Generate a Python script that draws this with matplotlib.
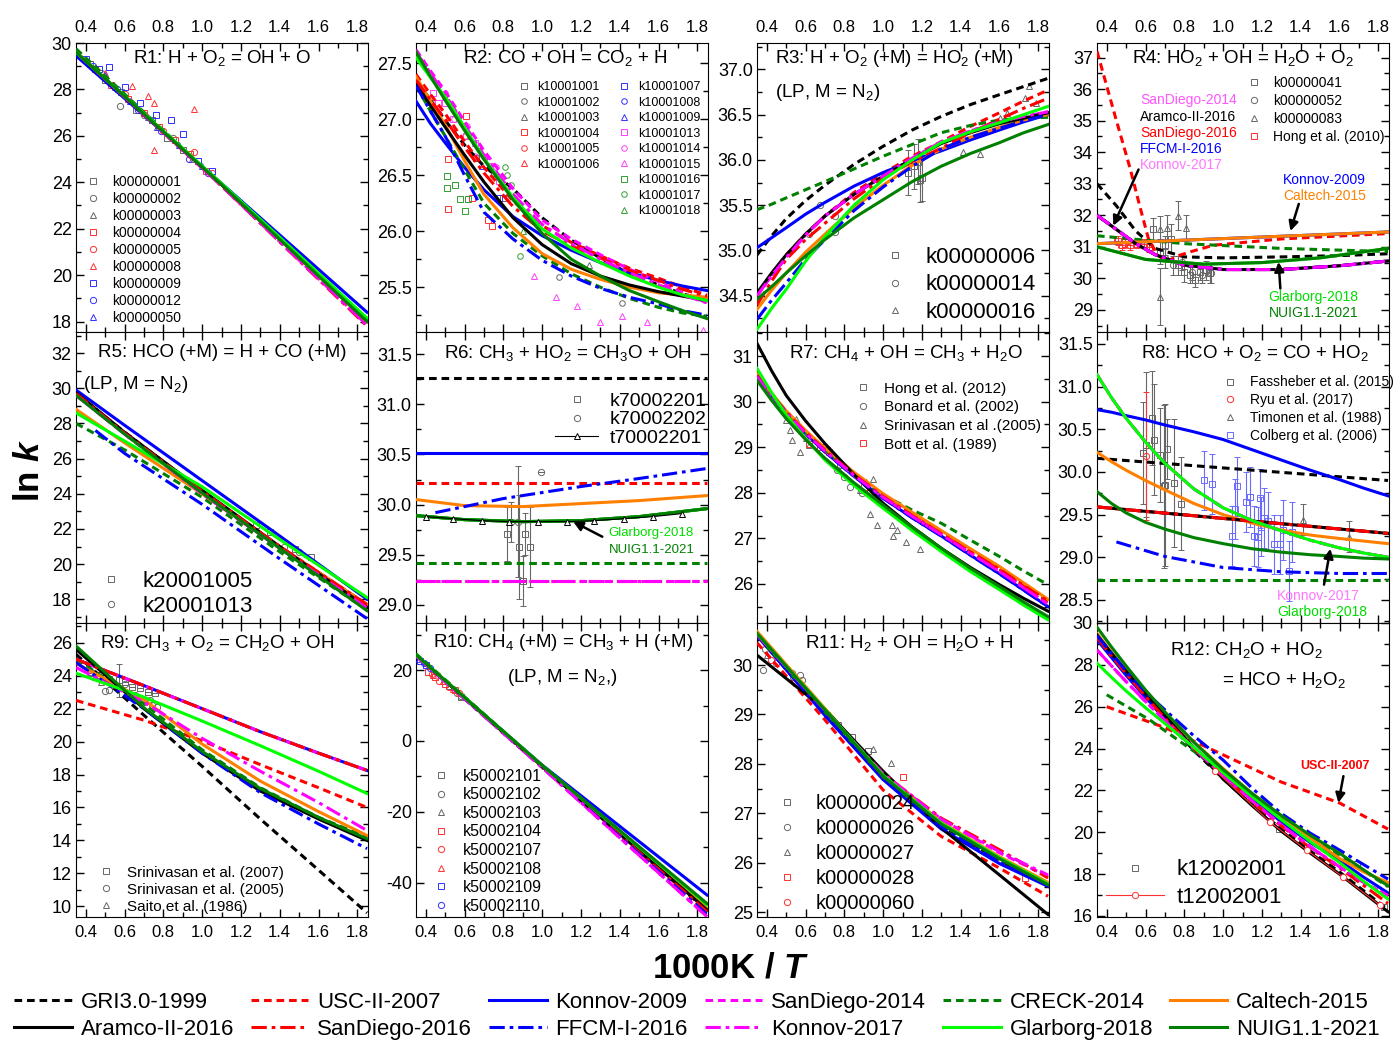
import matplotlib
matplotlib.use("Agg")
import matplotlib.pyplot as plt
from matplotlib.lines import Line2D
from matplotlib.ticker import MultipleLocator, FormatStrFormatter

plt.rcParams['font.family'] = ['Liberation Sans', 'DejaVu Sans']
plt.rcParams['mathtext.fontset'] = 'custom'
plt.rcParams['mathtext.rm'] = 'Liberation Sans'
plt.rcParams['mathtext.it'] = 'Liberation Sans:italic'
plt.rcParams['mathtext.bf'] = 'Liberation Sans:bold'
plt.rcParams['mathtext.bfit'] = 'Liberation Sans:bold:italic'

# %% models
keys = ['GRI', 'USC', 'K09', 'SD14', 'CRECK', 'CT15', 'ARAM', 'SD16', 'FFCM', 'K17', 'GLA', 'NUIG']
model_names = ['GRI3.0-1999', 'USC-II-2007', 'Konnov-2009', 'SanDiego-2014', 'CRECK-2014', 'Caltech-2015',
               'Aramco-II-2016', 'SanDiego-2016', 'FFCM-I-2016', 'Konnov-2017', 'Glarborg-2018', 'NUIG1.1-2021']

# x values at which the curved panels were read
x_dense = [0.35, 0.425, 0.5, 0.6, 0.7, 0.85, 1.0, 1.15, 1.3, 1.45, 1.6, 1.725, 1.85]

# %% R1: H + O2 = OH + O
r1_x = [0.35, 1.1, 1.85]
r1 = {'GRI': [29.6, 23.9, 18.0], 'USC': [29.6, 23.85, 17.9], 'K09': [29.45, 23.95, 18.4],
      'SD14': [29.6, 23.85, 17.85], 'CRECK': [29.75, 23.9, 18.0], 'CT15': [29.6, 23.9, 18.0],
      'ARAM': [29.6, 23.9, 18.05], 'SD16': [29.6, 23.85, 17.8], 'FFCM': [29.6, 23.9, 18.0],
      'K17': [29.6, 23.85, 17.85], 'GLA': [29.6, 23.95, 18.15], 'NUIG': [29.6, 23.9, 18.0]}
r1_pts = {
    'k00000001': ([0.42, 0.5, 0.58, 0.66, 0.74, 0.82, 0.9], [29.1, 28.4, 27.9, 27.1, 26.7, 25.9, 25.4]),
    'k00000002': ([0.48, 0.575, 0.7, 0.85], [28.7, 27.3, 26.9, 25.9]),
    'k00000003': ([0.55, 0.72, 0.95], [28.1, 26.8, 25.0]),
    'k00000004': ([0.45, 0.53, 0.62, 0.7, 0.78, 0.86, 0.94, 1.02], [28.9, 28.2, 27.6, 27.0, 26.4, 25.8, 25.2, 24.5]),
    'k00000005': ([0.6, 0.8, 0.96, 1.05], [27.8, 26.2, 25.3, 24.4]),
    'k00000008': ([0.5, 0.64, 0.72, 0.75, 0.96, 0.75], [28.7, 28.14, 27.7, 27.4, 27.15, 25.37]),
    'k00000009': ([0.4, 0.47, 0.52, 0.6, 0.68, 0.76, 0.84, 0.9, 0.98, 1.05],
                  [29.3, 28.9, 28.97, 28.1, 27.4, 26.9, 26.7, 26.1, 24.9, 24.5]),
    'k00000012': ([0.44, 0.56, 0.67, 0.79, 0.93, 1.03], [29.0, 28.0, 27.1, 26.2, 25.0, 24.4]),
    'k00000050': ([0.5, 0.63, 0.77, 0.88, 1.0], [28.6, 27.5, 26.4, 25.6, 24.7]),
}

# %% R2: CO + OH = CO2 + H
r2 = {'GRI': [27.35, 27.17, 26.99, 26.77, 26.58, 26.38, 26.12, 25.92, 25.76, 25.62, 25.52, 25.44, 25.38],
      'USC': [27.4, 27.22, 27.05, 26.8, 26.57, 26.27, 26.05, 25.9, 25.78, 25.67, 25.58, 25.5, 25.43],
      'K09': [27.16, 26.96, 26.79, 26.57, 26.37, 26.13, 25.96, 25.83, 25.72, 25.63, 25.56, 25.51, 25.47],
      'SD14': [27.62, 27.43, 27.25, 26.98, 26.72, 26.38, 26.1, 25.93, 25.79, 25.66, 25.55, 25.45, 25.36],
      'CRECK': [27.3, 27.07, 26.85, 26.55, 26.25, 25.98, 25.78, 25.62, 25.5, 25.4, 25.32, 25.27, 25.24],
      'CT15': [27.38, 27.16, 26.95, 26.63, 26.33, 26.03, 25.8, 25.66, 25.57, 25.5, 25.45, 25.43, 25.41],
      'ARAM': [27.32, 27.12, 26.93, 26.68, 26.44, 26.12, 25.88, 25.71, 25.6, 25.52, 25.46, 25.42, 25.38],
      'SD16': [27.35, 27.17, 27.0, 26.75, 26.52, 26.22, 26.0, 25.87, 25.76, 25.65, 25.56, 25.48, 25.42],
      'FFCM': [27.3, 27.07, 26.85, 26.5, 26.17, 25.93, 25.74, 25.6, 25.49, 25.41, 25.35, 25.29, 25.25],
      'K17': [27.6, 27.41, 27.22, 26.95, 26.68, 26.33, 26.06, 25.89, 25.75, 25.63, 25.52, 25.43, 25.36],
      'GLA': [27.55, 27.37, 27.2, 26.93, 26.65, 26.3, 26.02, 25.85, 25.72, 25.6, 25.5, 25.43, 25.38],
      'NUIG': [27.6, 27.38, 27.17, 26.9, 26.64, 26.28, 25.98, 25.75, 25.6, 25.47, 25.37, 25.29, 25.22]}
r2_pts = {
    'k10001001': ([0.66, 0.8], [26.65, 26.3]),
    'k10001002': ([1.085, 1.41], [25.59, 25.36]),
    'k10001003': ([0.956, 1.24, 1.64], [26.11, 25.7, 25.47]),
    'k10001004': ([0.517, 0.517, 0.61, 0.64, 0.72, 0.74], [26.2, 26.64, 27.03, 26.3, 26.1, 26.05]),
    'k10001005': ([0.47, 0.6], [27.0, 26.85]),
    'k10001006': ([0.5], [27.2]),
    'k10001007': ([0.78], [26.3]),
    'k10001008': ([0.43], [27.1]),
    'k10001009': ([0.69], [26.58]),
    'k10001013': ([0.44, 0.465, 0.5, 0.54, 0.61, 0.655, 0.73, 0.75, 0.78],
                  [27.23, 27.14, 27.14, 27.0, 26.85, 26.79, 26.58, 26.52, 26.45]),
    'k10001014': ([0.5, 0.546, 0.615, 0.655, 0.76], [27.23, 27.0, 26.94, 26.67, 26.57]),
    'k10001015': ([0.956, 1.07, 1.18, 1.3, 1.41, 1.54, 1.83], [25.6, 25.41, 25.33, 25.19, 25.24, 25.19, 25.12]),
    'k10001016': ([0.51, 0.51, 0.55, 0.577, 0.60, 0.62], [26.49, 26.39, 26.41, 26.29, 26.18, 26.29]),
    'k10001017': ([0.81, 0.82, 0.84, 0.86, 0.887], [26.57, 26.5, 26.41, 26.32, 25.78]),
    'k10001018': ([0.9], [26.0]),
}

# %% R3: H + O2 (+M) = HO2 (+M)
r3 = {'GRI': [34.95, 35.16, 35.35, 35.55, 35.72, 35.95, 36.15, 36.33, 36.48, 36.61, 36.72, 36.81, 36.9],
      'USC': [34.5, 34.74, 34.95, 35.18, 35.38, 35.64, 35.85, 36.04, 36.2, 36.37, 36.52, 36.65, 36.77],
      'K09': [35.03, 35.14, 35.25, 35.4, 35.53, 35.71, 35.86, 35.99, 36.1, 36.22, 36.33, 36.42, 36.5],
      'SD14': [34.5, 34.72, 34.92, 35.17, 35.38, 35.62, 35.82, 36.02, 36.2, 36.32, 36.42, 36.48, 36.53],
      'CRECK': [35.45, 35.51, 35.58, 35.67, 35.76, 35.9, 36.04, 36.17, 36.3, 36.38, 36.44, 36.46, 36.47],
      'CT15': [34.35, 34.56, 34.75, 34.98, 35.18, 35.47, 35.72, 35.94, 36.12, 36.25, 36.36, 36.44, 36.5],
      'ARAM': [34.53, 34.75, 34.95, 35.18, 35.38, 35.62, 35.82, 36.01, 36.18, 36.3, 36.4, 36.46, 36.52],
      'SD16': [34.4, 34.66, 34.9, 35.12, 35.3, 35.57, 35.8, 35.98, 36.13, 36.3, 36.45, 36.57, 36.68],
      'FFCM': [34.24, 34.45, 34.64, 34.9, 35.12, 35.44, 35.7, 35.93, 36.12, 36.25, 36.35, 36.43, 36.5],
      'K17': [34.5, 34.72, 34.92, 35.17, 35.38, 35.62, 35.82, 36.02, 36.2, 36.32, 36.42, 36.48, 36.53],
      'GLA': [34.13, 34.36, 34.57, 34.88, 35.15, 35.5, 35.78, 36.0, 36.19, 36.31, 36.41, 36.5, 36.59],
      'NUIG': [34.46, 34.6, 34.75, 34.94, 35.12, 35.36, 35.56, 35.76, 35.93, 36.07, 36.19, 36.3, 36.39]}
r3_pts = {
    'k00000006': ([1.13, 1.16, 1.18, 1.19, 1.2], [35.86, 35.93, 35.98, 35.78, 35.8], [0.25, 0.25, 0.25, 0.25, 0.25]),
    'k00000014': ([0.62, 0.675, 0.75, 0.75], [35.18, 35.5, 35.2, 35.38]),
    'k00000016': ([1.41, 1.5, 1.6, 1.64, 1.73, 1.75, 1.79], [36.09, 36.07, 36.46, 36.52, 36.68, 36.81, 36.63]),
}

# %% R4: HO2 + OH = H2O + O2
r4_x = [0.35, 0.45, 0.55, 0.65, 0.8, 1.0, 1.3, 1.6, 1.85]
r4_group = [32.0, 31.55, 31.1, 30.75, 30.42, 30.28, 30.28, 30.4, 30.55]
r4 = {'GRI': [33.0, 32.3, 31.5, 30.95, 30.68, 30.65, 30.68, 30.72, 30.78],
      'USC': ([0.35, 0.45, 0.52, 0.57, 0.615, 0.66, 0.71, 0.76, 0.83, 0.95, 1.3, 1.85],
              [37.2, 35.0, 33.5, 32.3, 31.26, 30.75, 30.52, 30.7, 30.84, 31.05, 31.25, 31.42]),
      'K09': ([0.35, 1.85], [31.1, 31.47]),
      'SD14': r4_group,
      'CRECK': ([0.35, 0.8, 1.3, 1.85], [31.35, 31.1, 30.95, 30.85]),
      'CT15': ([0.35, 1.85], [31.1, 31.47]),
      'ARAM': r4_group,
      'SD16': r4_group,
      'FFCM': r4_group,
      'K17': r4_group,
      'GLA': ([0.35, 0.6, 0.9, 1.2, 1.5, 1.85], [31.0, 30.6, 30.45, 30.5, 30.65, 30.95]),
      'NUIG': ([0.35, 0.6, 0.9, 1.2, 1.5, 1.85], [31.0, 30.6, 30.45, 30.5, 30.65, 30.95])}
r4_pts = {
    'k00000041': ([0.64, 0.675, 0.70, 0.73, 0.77, 0.80, 0.83, 0.856, 0.88, 0.91, 0.93],
                  [31.57, 30.84, 31.05, 31.26, 30.42, 30.2, 30.1, 29.94, 30.2, 30.26, 30.16],
                  [0.35, 0.4, 0.3, 0.45, 0.3, 0.3, 0.25, 0.2, 0.25, 0.3, 0.3]),
    'k00000052': ([0.70, 0.74, 0.79, 0.84, 0.89, 0.94], [30.63, 30.42, 30.52, 30.2, 30.1, 30.16],
                  [0.3, 0.3, 0.25, 0.25, 0.25, 0.3]),
    'k00000083': ([0.675, 0.675, 0.71, 0.77, 0.81], [29.42, 31.57, 31.6, 31.99, 31.6], [0.9, 0.4, 0.4, 0.45, 0.4]),
    'Hong et al. (2010)': ([0.46, 0.48, 0.495, 0.52, 0.555, 0.59, 0.62], [31.2, 31.05, 31.15, 31.05, 31.1, 31.1, 31.0],
                           [0.15, 0.15, 0.15, 0.15, 0.15, 0.15, 0.15], [0.02, 0.02, 0.02, 0.02, 0.02, 0.02, 0.02]),
}

# %% R5: HCO (+M) = H + CO (+M)
r5_x = [0.35, 0.6, 1.0, 1.4, 1.85]
r5 = {'GRI': [29.7, 27.5, 24.15, 20.95, 17.6], 'USC': [29.7, 27.5, 24.15, 21.0, 17.7],
      'K09': [29.9, 27.9, 24.75, 21.6, 18.0], 'SD14': [29.6, 27.4, 24.0, 20.9, 17.5],
      'CRECK': [28.0, 26.5, 23.8, 20.7, 17.4], 'CT15': [28.8, 26.9, 24.0, 21.0, 17.7],
      'ARAM': [29.75, 27.5, 24.2, 21.0, 17.55], 'SD16': [29.7, 27.45, 24.15, 21.0, 17.7],
      'FFCM': ([0.45, 0.6, 1.0, 1.4, 1.85], [27.6, 26.3, 23.4, 20.3, 16.9]),
      'K17': [29.6, 27.4, 24.0, 20.9, 17.5], 'GLA': [28.6, 27.0, 24.4, 21.4, 18.1],
      'NUIG': [29.6, 27.4, 24.05, 20.9, 17.35]}
r5_pts = {
    'k20001005': ([1.28, 1.35, 1.48, 1.56], [22.25, 21.83, 20.84, 20.4]),
    'k20001013': ([1.42, 1.5], [21.0, 20.7]),
}

# %% R6: CH3 + HO2 = CH3O + OH
r6_flat_x = [0.35, 1.85]
r6_nuig_x = [0.35, 0.6, 0.9, 1.2, 1.5, 1.85]
r6_nuig = [29.89, 29.85, 29.83, 29.84, 29.88, 29.96]
r6 = {'GRI': (r6_flat_x, [31.26, 31.26]), 'USC': (r6_flat_x, [30.22, 30.22]),
      'K09': (r6_flat_x, [30.51, 30.51]), 'SD14': (r6_flat_x, [29.24, 29.24]),
      'CRECK': (r6_flat_x, [29.42, 29.42]),
      'CT15': (r6_nuig_x, [30.05, 29.99, 29.98, 30.01, 30.04, 30.09]),
      'ARAM': (r6_nuig_x, r6_nuig), 'SD16': (r6_flat_x, [29.24, 29.24]),
      'FFCM': ([0.45, 0.8, 1.2, 1.5, 1.85], [29.92, 30.06, 30.18, 30.26, 30.36]),
      'K17': (r6_flat_x, [29.24, 29.24]), 'GLA': (r6_nuig_x, r6_nuig), 'NUIG': (r6_nuig_x, r6_nuig)}
r6_pts = {
    'k70002201': ([0.82, 0.88, 0.90, 0.91, 0.94], [29.71, 29.58, 29.24, 29.71, 29.58], [0.27, 0.52, 0.25, 0.21, 0.4]),
    'k70002202': ([0.84, 0.875, 0.995], [29.83, 29.83, 30.32], [0.2, 0.55, 0.0]),
    't70002201': ([0.4, 0.54, 0.69, 0.83, 0.98, 1.13, 1.27, 1.42, 1.57, 1.72],
                  [29.88, 29.86, 29.84, 29.83, 29.83, 29.83, 29.84, 29.86, 29.88, 29.91]),
}

# %% R7: CH4 + OH = CH3 + H2O
r7_mid = [30.58, 30.16, 29.78, 29.33, 28.94, 28.4, 27.92, 27.5, 27.1, 26.7, 26.32, 25.96, 25.62]
r7 = {'GRI': r7_mid, 'USC': r7_mid, 'SD16': r7_mid,
      'K09': [30.55, 30.13, 29.75, 29.3, 28.9, 28.36, 27.88, 27.45, 27.05, 26.63, 26.22, 25.86, 25.5],
      'SD14': [30.55, 30.14, 29.76, 29.31, 28.92, 28.38, 27.9, 27.48, 27.08, 26.67, 26.27, 25.91, 25.55],
      'CRECK': [30.6, 30.18, 29.78, 29.33, 28.94, 28.42, 27.95, 27.62, 27.33, 26.96, 26.6, 26.28, 25.98],
      'CT15': [30.6, 30.19, 29.8, 29.37, 28.98, 28.45, 27.98, 27.57, 27.17, 26.77, 26.38, 26.02, 25.66],
      'ARAM': [31.28, 30.68, 30.14, 29.58, 29.08, 28.4, 27.77, 27.25, 26.78, 26.36, 25.98, 25.68, 25.4],
      'FFCM': [30.55, 30.13, 29.75, 29.3, 28.9, 28.36, 27.88, 27.45, 27.05, 26.63, 26.22, 25.86, 25.5],
      'K17': [30.55, 30.14, 29.76, 29.31, 28.92, 28.38, 27.9, 27.48, 27.08, 26.67, 26.27, 25.91, 25.55],
      'GLA': [30.73, 30.2, 29.71, 29.19, 28.72, 28.16, 27.66, 27.17, 26.71, 26.27, 25.87, 25.53, 25.21],
      'NUIG': [30.47, 30.03, 29.63, 29.17, 28.76, 28.22, 27.73, 27.24, 26.78, 26.34, 25.94, 25.6, 25.28]}
r7_pts = {
    'Hong et al. (2012)': ([0.72, 0.78], [28.9, 28.6]),
    'Bonard et al. (2002)': ([0.76, 0.8, 0.83, 0.89], [28.5, 28.35, 28.13, 27.99]),
    'Srinivasan et al .(2005)': ([0.5, 0.52, 0.53, 0.55, 0.57, 0.6, 0.62, 0.88, 0.91, 0.93, 0.95, 0.97,
                                  1.045, 1.05, 1.07, 1.12, 1.19],
                                 [29.6, 29.38, 29.16, 29.61, 28.9, 29.2, 29.05, 28.06, 28.24, 27.54, 28.3, 27.29,
                                  27.29, 27.04, 27.18, 26.91, 26.77]),
    'Bott et al. (1989)': ([0.62, 0.675, 0.71, 0.9, 0.93], [29.08, 29.01, 28.94, 28.13, 27.99]),
}

# %% R8: HCO + O2 = CO + HO2
r8_lime = [31.14, 30.87, 30.63, 30.35, 30.1, 29.8, 29.58, 29.43, 29.31, 29.2, 29.11, 29.05, 29.0]
r8_flat_x = [0.35, 1.85]
r8 = {'GRI': (r8_flat_x, [30.16, 29.9]),
      'USC': (r8_flat_x, [29.59, 29.28]),
      'K09': [30.73, 30.7, 30.66, 30.61, 30.55, 30.47, 30.38, 30.26, 30.14, 30.02, 29.91, 29.81, 29.72],
      'SD14': r8_lime,
      'CRECK': (r8_flat_x, [28.73, 28.73]),
      'CT15': [30.23, 30.12, 30.02, 29.9, 29.79, 29.63, 29.5, 29.4, 29.32, 29.26, 29.22, 29.19, 29.16],
      'ARAM': (r8_flat_x, [29.59, 29.28]),
      'SD16': (r8_flat_x, [29.59, 29.28]),
      'FFCM': ([0.45, 0.7, 1.0, 1.3, 1.6, 1.85], [29.18, 29.01, 28.88, 28.83, 28.81, 28.81]),
      'K17': r8_lime,
      'GLA': r8_lime,
      'NUIG': [29.77, 29.63, 29.52, 29.41, 29.33, 29.23, 29.16, 29.1, 29.06, 29.03, 29.01, 28.99, 28.98]}
r8_pts = {
    'Fassheber et al. (2015)': ([0.586, 0.603, 0.632, 0.644, 0.675, 0.695, 0.70, 0.71, 0.748, 0.782],
                                [30.22, 30.32, 30.63, 30.38, 30.2, 29.83, 29.85, 30.27, 29.87, 29.63],
                                [0.6, 0.85, 0.55, 0.65, 0.55, 0.95, 0.95, 0.35, 0.75, 0.55]),
    'Ryu et al. (2017)': ([0.603], [30.19], [0.75]),
    'Timonen et al. (1988)': ([1.41, 1.65], [29.44, 29.24], [0.18, 0.18]),
    'Colberg et al. (2006)': ([0.90, 0.945, 1.045, 1.06, 1.07, 1.12, 1.137, 1.16, 1.18, 1.19, 1.197, 1.21, 1.23,
                               1.26, 1.295, 1.31, 1.34, 1.355],
                              [29.9, 29.86, 29.25, 29.57, 29.83, 29.65, 29.71, 29.25, 29.24, 29.69, 29.36, 29.46,
                               29.42, 29.15, 29.15, 29.32, 28.84, 29.3],
                              [0.35] * 18),
}

# %% R9: CH3 + O2 = CH2O + OH
r9_x = [0.35, 0.7, 1.0, 1.3, 1.6, 1.85]
r9 = {'GRI': [25.3, 21.6, 18.5, 15.3, 12.2, 9.6],
      'USC': [22.5, 21.3, 20.05, 18.6, 17.2, 16.0],
      'K09': [25.0, 23.4, 22.0, 20.6, 19.3, 18.25],
      'SD14': [25.0, 23.4, 22.0, 20.6, 19.3, 18.25],
      'CRECK': [25.0, 22.3, 19.5, 17.2, 15.4, 14.2],
      'CT15': [24.75, 22.55, 19.85, 17.6, 15.75, 14.3],
      'ARAM': [25.6, 22.0, 19.3, 17.0, 15.3, 14.0],
      'SD16': [25.0, 23.4, 22.0, 20.6, 19.3, 18.25],
      'FFCM': [24.8, 22.0, 19.3, 16.9, 15.0, 13.5],
      'K17': [24.5, 22.4, 20.2, 18.2, 16.3, 14.6],
      'GLA': [24.15, 22.7, 21.25, 19.75, 18.2, 16.85],
      'NUIG': [25.8, 22.05, 19.4, 17.15, 15.4, 14.1]}
r9_pts = {
    'Srinivasan et al. (2007)': ([0.425, 0.476, 0.52, 0.57, 0.6, 0.64, 0.68, 0.72, 0.757],
                                 [24.14, 24.04, 23.83, 23.73, 23.63, 23.33, 23.23, 23.02, 22.92],
                                 [0, 0, 0, 1.0, 0, 0, 0, 0, 0]),
    'Srinivasan et al. (2005)': ([0.5, 0.52, 0.6, 0.655, 0.69, 0.705, 0.73, 0.74, 0.77],
                                 [23.1, 23.13, 23.5, 22.8, 22.6, 22.4, 22.5, 22.2, 22.1]),
    'Saito et al. (1986)': ([0.42, 0.45, 0.48], [24.2, 23.9, 23.6]),
}

# %% R10: CH4 (+M) = CH3 + H (+M)
r10_x = [0.35, 1.0, 1.85]
r10 = {'GRI': [24.2, -7.2, -47.8], 'USC': [24.2, -7.2, -47.9], 'K09': [24.0, -6.8, -43.5],
       'SD14': [24.0, -7.5, -49.6], 'CRECK': [24.6, -6.9, -46.5], 'CT15': [24.2, -7.1, -47.3],
       'ARAM': [24.2, -7.2, -47.7], 'SD16': [24.2, -7.3, -48.2], 'FFCM': [24.0, -7.4, -49.0],
       'K17': [24.0, -7.5, -49.6], 'GLA': [24.3, -6.9, -46.2], 'NUIG': [24.3, -6.9, -45.9]}
r10_pts = {
    'k50002101': ([0.58], [12.5]),
    'k50002102': ([0.56, 0.58], [13.5, 12.8]),
    'k50002103': ([0.52], [15.5]),
    'k50002104': ([0.41, 0.45, 0.5, 0.55], [19.5, 18.0, 16.0, 14.3]),
    'k50002107': ([0.43, 0.47, 0.52, 0.57], [19.0, 16.8, 15.2, 13.5]),
    'k50002108': ([0.44, 0.49, 0.54], [18.5, 17.0, 14.8]),
    'k50002109': ([0.37, 0.4], [22.5, 21.5]),
    'k50002110': ([0.36, 0.39, 0.42], [23.0, 22.0, 20.5]),
}

# %% R11: H2 + OH = H2O + H
r11_x = [0.35, 0.7, 1.0, 1.3, 1.6, 1.85]
r11 = {'GRI': [30.62, 29.05, 27.72, 26.75, 26.05, 25.55],
       'USC': [30.45, 28.89, 27.47, 26.53, 25.89, 25.32],
       'K09': [30.6, 28.98, 27.68, 26.68, 25.98, 25.52],
       'SD14': [30.62, 29.08, 27.8, 26.88, 26.2, 25.72],
       'CRECK': [30.6, 29.05, 27.73, 26.77, 26.08, 25.58],
       'CT15': [30.68, 29.12, 27.8, 26.82, 26.12, 25.6],
       'ARAM': [30.2, 29.1, 27.85, 26.7, 25.75, 24.95],
       'SD16': [30.6, 29.05, 27.8, 26.9, 26.26, 25.69],
       'FFCM': [30.6, 29.0, 27.7, 26.72, 26.02, 25.53],
       'K17': [30.62, 29.08, 27.8, 26.88, 26.22, 25.75],
       'GLA': [30.64, 29.1, 27.77, 26.8, 26.1, 25.57],
       'NUIG': [30.64, 29.09, 27.75, 26.78, 26.08, 25.55]}
r11_pts = {
    'k00000024': ([0.71, 0.77, 0.84, 0.92], [28.99, 28.79, 28.55, 28.25]),
    'k00000026': ([0.38, 0.39, 0.45, 0.53, 0.535, 0.57, 0.58], [29.9, 30.32, 30.05, 29.83, 29.76, 29.8, 29.7]),
    'k00000027': ([0.4, 0.95, 1.04], [30.2, 28.31, 28.01]),
    'k00000028': ([1.1, 1.73], [27.74, 25.69]),
    'k00000060': ([0.42], [30.1]),
}

# %% R12: CH2O + HO2 = HCO + H2O2
r12_sd14 = [28.71, 27.95, 27.2, 26.25, 25.35, 24.0, 22.72, 21.5, 20.35, 19.3, 18.35, 17.6, 16.97]
r12 = {'GRI': [29.3, 28.4, 27.55, 26.45, 25.4, 23.9, 22.55, 21.3, 20.15, 19.1, 18.1, 17.2, 16.3],
       'USC': ([0.4, 0.7, 1.0, 1.3, 1.6, 1.85], [26.0, 25.0, 23.7, 22.4, 21.4, 20.15]),
       'K09': [29.2, 28.35, 27.5, 26.45, 25.45, 24.05, 22.8, 21.6, 20.5, 19.5, 18.65, 17.85, 17.1],
       'SD14': r12_sd14,
       'CRECK': ([0.4, 0.62, 0.86, 1.0, 1.3, 1.6, 1.85], [26.57, 25.38, 23.8, 22.9, 20.75, 18.9, 17.4]),
       'CT15': [29.5, 28.6, 27.75, 26.7, 25.7, 24.3, 23.05, 21.85, 20.78, 19.72, 18.75, 18.1, 17.6],
       'ARAM': [29.43, 28.55, 27.7, 26.62, 25.58, 24.02, 22.55, 21.27, 20.05, 19.0, 18.0, 17.1, 16.2],
       'SD16': [29.3, 28.42, 27.58, 26.5, 25.45, 24.0, 22.7, 21.45, 20.3, 19.25, 18.3, 17.45, 16.6],
       'FFCM': [29.4, 28.55, 27.7, 26.7, 25.85, 24.6, 23.45, 22.1, 20.9, 19.95, 19.15, 18.45, 17.76],
       'K17': r12_sd14,
       'GLA': [28.08, 27.4, 26.75, 25.95, 25.2, 24.05, 22.85, 21.7, 20.6, 19.55, 18.55, 17.65, 16.81],
       'NUIG': [29.8, 28.85, 27.95, 26.8, 25.75, 24.3, 23.0, 21.85, 20.8, 19.85, 19.0, 18.2, 17.44]}
r12_pts = {
    'k12002001': ([1.29, 1.53, 1.62, 1.69, 1.83], [20.14, 19.19, 18.4, 18.48, 16.41]),
    't12002001': ([0.96, 1.24, 1.43, 1.62, 1.81], [22.95, 20.5, 19.15, 17.85, 16.5]),
}

# %% styles
DASH = (0, (2.5, 1.6))
DDOT = (0, (5.0, 1.6, 1.2, 1.6))
model_colors = ['black', 'red', 'blue', 'magenta', '#008000', '#ff8000',
                'black', 'red', 'blue', 'magenta', '#00ff00', '#008000']
model_styles = [DASH, DASH, '-', DASH, DASH, '-', '-', DDOT, DDOT, DDOT, '-', '-']
LW = 2.2
G, R, B, M, GN = '#666666', '#ff3030', '#3030ff', '#ff40ff', '#30a030'
LB = '#6a6aff'

W, H = 1394, 1041
col_left = [76, 416, 757, 1097]
row_top = [43, 332, 623]
row_h = [289, 291, 294]
AX_W = 292


def draw_models(ax, xgrid, curves):
    for key, color, ls in zip(keys, model_colors, model_styles):
        v = curves[key]
        xs, ys = v if isinstance(v, tuple) else (xgrid, v)
        ax.plot(xs, ys, color=color, ls=ls, lw=LW, zorder=3)


def draw_points(ax, pts, colors, ms=4.5):
    handles = []
    for i, (label, d) in enumerate(pts.items()):
        m = 'so^'[i % 3]
        c = colors[i]
        line = label.startswith('t')
        if line:
            ax.plot(d[0], d[1], color=c, lw=0.8, marker=m, ms=ms, mfc='white', mec=c, mew=0.7, zorder=4)
        else:
            yerr = d[2] if len(d) > 2 else None
            xerr = d[3] if len(d) > 3 else None
            ax.errorbar(d[0], d[1], yerr=yerr, xerr=xerr, fmt=m, ms=ms, mfc='none', mec=c, mew=0.7,
                        ecolor=c, elinewidth=0.8, capsize=2.5, zorder=2.5)
        handles.append(Line2D([], [], color=c, ls='-' if line else 'none', lw=0.8, marker=m, ms=ms,
                              mfc='white' if line else 'none', mec=c, mew=0.7, label=label))
    return handles


def setup(ax, row, ylim, ymaj, ymin, yfmt):
    ax.set_xlim(0.35, 1.855)
    ax.set_ylim(*ylim)
    ax.xaxis.set_major_locator(MultipleLocator(0.2))
    ax.xaxis.set_minor_locator(MultipleLocator(0.1))
    ax.xaxis.set_major_formatter(FormatStrFormatter('%.1f'))
    ax.yaxis.set_major_locator(MultipleLocator(ymaj))
    ax.yaxis.set_minor_locator(MultipleLocator(ymin))
    ax.yaxis.set_major_formatter(FormatStrFormatter(yfmt))
    ax.tick_params(which='both', direction='in', top=True, right=True,
                   labeltop=(row == 0), labelbottom=(row == 2))
    ax.tick_params(axis='x', labelsize=12, pad=6)
    ax.tick_params(axis='y', labelsize=13, pad=3)
    ax.tick_params(which='major', length=6, width=1)
    ax.tick_params(which='minor', length=3.5, width=1)


def leg(ax, handles, fs, loc, anchor, sp=0.25, hl=1.6):
    lg = ax.legend(handles=handles, fontsize=fs, loc=loc, bbox_to_anchor=anchor, frameon=False,
                   handlelength=hl, handletextpad=0.6, labelspacing=sp, borderpad=0.2, borderaxespad=0.2)
    return lg


fig = plt.figure(figsize=(W / 100, H / 100), dpi=100)
axes = []
for r in range(3):
    for c in range(4):
        a = fig.add_axes([col_left[c] / W, 1 - (row_top[r] + row_h[r]) / H, AX_W / W, row_h[r] / H])
        axes.append(a)

TFS = 13.5
arrow = dict(arrowstyle='-|>', color='black', lw=1.8, mutation_scale=14, shrinkA=0, shrinkB=0)

# R1
ax = axes[0]
setup(ax, 0, (17.55, 30.0), 2, 1, '%d')
draw_models(ax, r1_x, r1)
h = draw_points(ax, r1_pts, [G, G, G, R, R, R, B, B, B])
leg(ax, h, 10, 'lower left', (0.0, 0.005), sp=0.22)
ax.text(0.5, 0.948, 'R1: H + O$_2$ = OH + O', transform=ax.transAxes, ha='center', va='center', fontsize=TFS)

# R2
ax = axes[1]
setup(ax, 0, (25.1, 27.68), 0.5, 0.25, '%.1f')
draw_models(ax, x_dense, r2)
h = draw_points(ax, r2_pts, [G, G, G, R, R, R, B, B, B, M, M, M, GN, GN, GN], ms=4)
la = leg(ax, h[:6], 9, 'upper left', (0.33, 0.885), sp=0.28, hl=1.0)
ax.add_artist(la)
leg(ax, h[6:], 9, 'upper left', (0.675, 0.885), sp=0.28, hl=1.0)
ax.text(0.51, 0.948, 'R2: CO + OH = CO$_2$ + H', transform=ax.transAxes, ha='center', va='center', fontsize=TFS)

# R3
ax = axes[2]
setup(ax, 0, (34.1, 37.29), 0.5, 0.25, '%.1f')
draw_models(ax, x_dense, r3)
h = draw_points(ax, r3_pts, [G, G, G])
leg(ax, h, 16, 'lower left', (0.38, 0.0), sp=0.3)
ax.text(0.06, 0.948, 'R3: H + O$_2$ (+M) = HO$_2$ (+M)', transform=ax.transAxes, ha='left', va='center', fontsize=TFS)
ax.text(0.06, 0.83, '(LP, M = N$_2$)', transform=ax.transAxes, ha='left', va='center', fontsize=TFS)

# R4
ax = axes[3]
setup(ax, 0, (28.3, 37.46), 1, 0.5, '%d')
draw_models(ax, r4_x, r4)
h = draw_points(ax, r4_pts, [G, G, G, R])
leg(ax, h, 10, 'upper left', (0.48, 0.905), sp=0.28)
ax.text(0.5, 0.948, 'R4: HO$_2$ + OH = H$_2$O + O$_2$', transform=ax.transAxes, ha='center', va='center', fontsize=TFS)
for txt, col, yy in zip(['SanDiego-2014', 'Aramco-II-2016', 'SanDiego-2016', 'FFCM-I-2016', 'Konnov-2017'],
                        ['#ff55ff', 'black', 'red', 'blue', '#ff77ff'], [35.66, 35.13, 34.61, 34.09, 33.6]):
    ax.text(0.572, yy, txt, color=col, fontsize=10, ha='left', va='center')
ax.annotate('', xy=(0.434, 31.67), xytext=(0.564, 33.45), arrowprops=arrow)
ax.text(1.31, 33.12, 'Konnov-2009', color='blue', fontsize=10, ha='left', va='center')
ax.text(1.31, 32.62, 'Caltech-2015', color='#ff8000', fontsize=10, ha='left', va='center')
ax.annotate('', xy=(1.347, 31.5), xytext=(1.39, 32.36), arrowprops=arrow)
ax.text(1.235, 29.42, 'Glarborg-2018', color='#00dd00', fontsize=10, ha='left', va='center')
ax.text(1.235, 28.9, 'NUIG1.1-2021', color='#008000', fontsize=10, ha='left', va='center')
ax.annotate('', xy=(1.286, 30.52), xytext=(1.295, 29.68), arrowprops=arrow)

# R5
ax = axes[4]
setup(ax, 1, (16.65, 33.2), 2, 1, '%d')
draw_models(ax, r5_x, r5)
h = draw_points(ax, r5_pts, [G, G])
leg(ax, h, 16, 'lower left', (0.03, -0.01), sp=0.2)
ax.text(0.5, 0.928, 'R5: HCO (+M) = H + CO (+M)', transform=ax.transAxes, ha='center', va='center', fontsize=TFS)
ax.text(0.024, 0.818, '(LP, M = N$_2$)', transform=ax.transAxes, ha='left', va='center', fontsize=TFS)

# R6
ax = axes[5]
setup(ax, 1, (28.82, 31.72), 0.5, 0.25, '%.1f')
draw_models(ax, None, r6)
h = draw_points(ax, r6_pts, [G, G, 'black'])
leg(ax, h, 14, 'upper left', (0.45, 0.82), sp=0.05, hl=2.2)
ax.text(0.52, 0.928, 'R6: CH$_3$ + HO$_2$ = CH$_3$O + OH', transform=ax.transAxes, ha='center', va='center', fontsize=TFS)
ax.text(1.343, 29.72, 'Glarborg-2018', color='#00dd00', fontsize=9.5, ha='left', va='center')
ax.text(1.343, 29.55, 'NUIG1.1-2021', color='#008000', fontsize=9.5, ha='left', va='center')
ax.annotate('', xy=(1.16, 29.83), xytext=(1.31, 29.68), arrowprops=arrow)

# R7
ax = axes[6]
setup(ax, 1, (25.14, 31.53), 1, 0.5, '%d')
draw_models(ax, x_dense, r7)
h = draw_points(ax, r7_pts, [G, G, G, R])
leg(ax, h, 11, 'upper left', (0.30, 0.85), sp=0.3)
ax.text(0.51, 0.928, 'R7: CH$_4$ + OH = CH$_3$ + H$_2$O', transform=ax.transAxes, ha='center', va='center', fontsize=TFS)

# R8
ax = axes[7]
setup(ax, 1, (28.23, 31.64), 0.5, 0.25, '%.1f')
draw_models(ax, x_dense, r8)
h = draw_points(ax, r8_pts, [G, R, G, LB])
leg(ax, h, 10, 'upper left', (0.40, 0.87), sp=0.28)
ax.text(0.54, 0.928, 'R8: HCO + O$_2$ = CO + HO$_2$', transform=ax.transAxes, ha='center', va='center', fontsize=TFS)
ax.text(1.278, 28.55, 'Konnov-2017', color='#ff77ff', fontsize=10, ha='left', va='center')
ax.text(1.278, 28.36, 'Glarborg-2018', color='#00dd00', fontsize=10, ha='left', va='center')
ax.annotate('', xy=(1.553, 29.1), xytext=(1.52, 28.68), arrowprops=arrow)

# R9
ax = axes[8]
setup(ax, 2, (9.35, 27.2), 2, 1, '%d')
draw_models(ax, r9_x, r9)
h = draw_points(ax, r9_pts, [G, G, G])
leg(ax, h, 11, 'lower left', (0.04, -0.01), sp=0.2)
ax.text(0.485, 0.932, 'R9: CH$_3$ + O$_2$ = CH$_2$O + OH', transform=ax.transAxes, ha='center', va='center', fontsize=TFS)

# R10
ax = axes[9]
setup(ax, 2, (-49.7, 33.3), 20, 10, '%d')
draw_models(ax, r10_x, r10)
h = draw_points(ax, r10_pts, [G, G, G, R, R, R, B, B])
leg(ax, h, 11.5, 'lower left', (0.02, -0.01), sp=0.22)
ax.text(0.503, 0.932, 'R10: CH$_4$ (+M) = CH$_3$ + H (+M)', transform=ax.transAxes, ha='center', va='center', fontsize=TFS)
ax.text(0.5, 0.816, '(LP, M = N$_2$,)', transform=ax.transAxes, ha='center', va='center', fontsize=TFS)

# R11
ax = axes[10]
setup(ax, 2, (24.9, 30.85), 1, 0.5, '%d')
draw_models(ax, r11_x, r11)
h = draw_points(ax, r11_pts, [G, G, G, R, R])
leg(ax, h, 14.5, 'lower left', (0.02, -0.015), sp=0.3)
ax.text(0.52, 0.932, 'R11: H$_2$ + OH = H$_2$O + H', transform=ax.transAxes, ha='center', va='center', fontsize=TFS)

# R12
ax = axes[11]
setup(ax, 2, (15.95, 30.0), 2, 1, '%d')
draw_models(ax, x_dense, r12)
h = draw_points(ax, r12_pts, [G, R])
leg(ax, h, 16, 'lower left', (0.0, 0.0), sp=0.3, hl=2.6)
ax.text(0.51, 0.908, 'R12: CH$_2$O + HO$_2$', transform=ax.transAxes, ha='center', va='center', fontsize=TFS)
ax.text(0.64, 0.806, '= HCO + H$_2$O$_2$', transform=ax.transAxes, ha='center', va='center', fontsize=TFS)
ax.text(1.397, 23.16, 'USC-II-2007', color='red', fontsize=9, fontweight='bold', ha='left', va='center')
ax.annotate('', xy=(1.594, 21.41), xytext=(1.62, 22.68), arrowprops=arrow)

# %% labels and shared legend
fig.text(0.0215, 0.548, r'ln $\mathbfit{k}$', rotation=90, ha='center', va='center', fontsize=25, fontweight='bold')
fig.text(0.524, 0.07, r'1000K / $\mathbfit{T}$', ha='center', va='center', fontsize=25, fontweight='bold')

handles = [Line2D([], [], color=c, ls=s, lw=LW) for c, s in zip(model_colors, model_styles)]
order = [0, 6, 1, 7, 2, 8, 3, 9, 4, 10, 5, 11]
fig.legend([handles[i] for i in order], [model_names[i] for i in order], loc='lower center',
           bbox_to_anchor=(0.5, -0.012), ncol=6, fontsize=16, frameon=False, handlelength=2.6,
           handletextpad=0.4, columnspacing=0.75, labelspacing=0.28, borderpad=0.1)

fig.savefig('out.png', dpi=100)
